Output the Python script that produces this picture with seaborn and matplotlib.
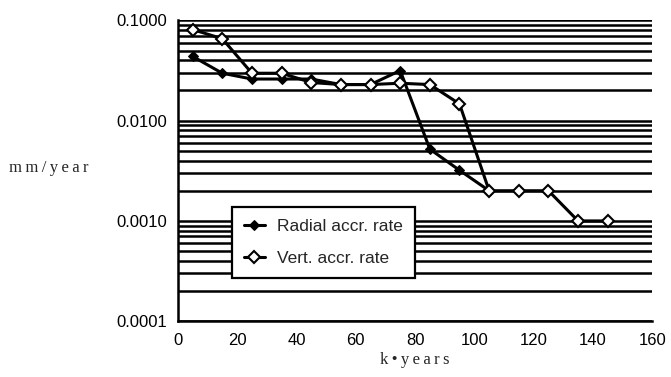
import matplotlib
matplotlib.use('Agg')
import matplotlib.pyplot as plt
import matplotlib.ticker as mticker
import seaborn as sns
import numpy as np

# accretion rates (mm/year) against age (k years)
radial_x = [5, 15, 25, 35, 45, 55, 65, 75, 85, 95, 105]
radial_y = [0.0437, 0.0297, 0.026, 0.026, 0.026, 0.0229, 0.0229, 0.0316, 0.0052, 0.0032, 0.0020]

vert_x = [5, 15, 25, 35, 45, 55, 65, 75, 85, 95, 105, 115, 125, 135, 145]
vert_y = [0.081, 0.0656, 0.0297, 0.0297, 0.024, 0.0229, 0.0229, 0.0236, 0.0229, 0.0147,
          0.0020, 0.0020, 0.0020, 0.0010, 0.0010]

xticks = [0, 20, 40, 60, 80, 100, 120, 140, 160]
ytick_vals = [0.0001, 0.001, 0.01, 0.1]
ytick_labels = ['0.0001', '0.0010', '0.0100', '0.1000']

sns.set_theme(style="white")
plt.rcParams['font.family'] = ['Liberation Sans', 'DejaVu Sans']

THIN = '\u2009'

fig = plt.figure(figsize=(6.71, 3.77), dpi=100)
ax = fig.add_axes([0.265, 0.148, 0.707, 0.798])

sns.lineplot(x=radial_x, y=radial_y, ax=ax, color='black', lw=2.2,
             marker='D', markersize=5.5, markerfacecolor='black',
             markeredgecolor='black', label='Radial accr. rate', zorder=3)
sns.lineplot(x=vert_x, y=vert_y, ax=ax, color='black', lw=2.2,
             marker='D', markersize=6, markerfacecolor='white',
             markeredgecolor='black', markeredgewidth=1.5,
             label='Vert. accr. rate', zorder=4)

ax.set_yscale('log')
ax.set_ylim(0.0001, 0.1)
ax.set_xlim(0, 160)
ax.set_xticks(xticks)
ax.set_xticklabels([str(v) for v in xticks])
ax.set_yticks(ytick_vals)
ax.set_yticklabels(ytick_labels)
ax.yaxis.set_minor_locator(mticker.LogLocator(base=10, subs=np.arange(2, 10)))
ax.yaxis.set_minor_formatter(mticker.NullFormatter())

ax.grid(True, which='both', axis='y', color='black', lw=1.8)
ax.grid(False, axis='x')
ax.tick_params(axis='y', which='minor', length=0)
ax.tick_params(axis='both', which='major', direction='inout', length=7, width=1.5,
               color='black', labelsize=12, labelcolor='black', pad=4)
ax.tick_params(axis='x', which='major', pad=5)

for s in ['top', 'right']:
    ax.spines[s].set_visible(False)
for s in ['left', 'bottom']:
    ax.spines[s].set_color('black')
    ax.spines[s].set_linewidth(1.8)

serif = ['Liberation Serif', 'DejaVu Serif']
ax.set_xlabel(THIN.join('k•years'), fontfamily=serif, fontsize=12, labelpad=3)
ax.set_ylabel('')
fig.text(0.072, 0.555, THIN.join('mm/year'), fontfamily=serif, fontsize=12,
         ha='center', va='center')

leg = ax.legend(loc='lower left', bbox_to_anchor=(0.114, 0.143), borderaxespad=0,
                fontsize=12.5, frameon=True, fancybox=False, handlelength=1.2,
                handletextpad=0.7, borderpad=0.7, labelspacing=0.95, framealpha=1)
leg.get_frame().set_edgecolor('black')
leg.get_frame().set_linewidth(1.6)
leg.set_zorder(10)

fig.savefig('out.png', dpi=100)
